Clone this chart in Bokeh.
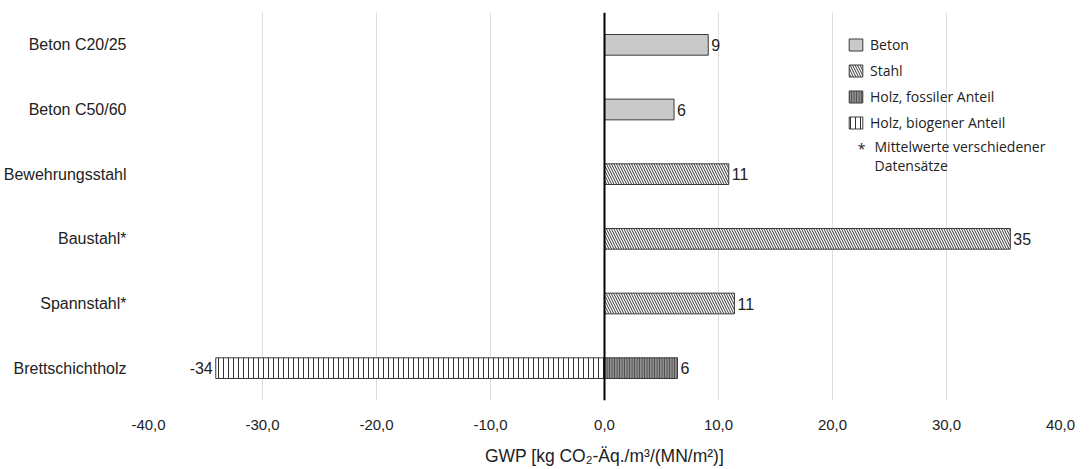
from bokeh.plotting import figure
from bokeh.models import (FactorRange, Range1d, FixedTicker, Span, Legend, LegendItem,
                          ColumnDataSource, Label)
from bokeh.core.properties import value
from bokeh.embed import file_html
from bokeh.resources import INLINE

categories = ["Beton C20/25", "Beton C50/60", "Bewehrungsstahl", "Baustahl*", "Spannstahl*", "Brettschichtholz"]

beton_cats = ["Beton C20/25", "Beton C50/60"]
beton_vals = [9.1, 6.1]
beton_labels = ["9", "6"]

stahl_cats = ["Bewehrungsstahl", "Baustahl*", "Spannstahl*"]
stahl_vals = [10.9, 35.6, 11.4]
stahl_labels = ["11", "35", "11"]

holz_cats = ["Brettschichtholz"]
holz_fossil = [6.4]
holz_fossil_labels = ["6"]
holz_biogen = [-34.1]
holz_biogen_labels = ["-34"]

x_ticks = [-40, -30, -20, -10, 0, 10, 20, 30, 40]
x_tick_labels = ["-40,0", "-30,0", "-20,0", "-10,0", "0,0", "10,0", "20,0", "30,0", "40,0"]

FONT = "Liberation Sans"
LFONT = "Open Sans"
BAR_H = 0.32

p = figure(width=1075, height=468, output_backend="svg", toolbar_location=None,
           y_range=FactorRange(factors=categories[::-1], range_padding=0),
           x_range=Range1d(-40, 40),
           min_border_left=144, min_border_right=15, min_border_top=12, min_border_bottom=63)
p.outline_line_color = None
p.background_fill_color = "white"

# axes
p.xaxis.ticker = FixedTicker(ticks=x_ticks)
p.xaxis.major_label_overrides = {t: l for t, l in zip(x_ticks, x_tick_labels)}
p.xaxis.axis_line_color = None
p.xaxis.major_tick_line_color = None
p.xaxis.minor_tick_line_color = None
p.xaxis.major_label_text_font = FONT
p.xaxis.major_label_text_font_size = "15px"
p.xaxis.major_label_text_color = "#222222"
p.xaxis.major_label_standoff = 13
p.xaxis.axis_label = "GWP [kg CO₂-Äq./m³/(MN/m²)]"
p.xaxis.axis_label_text_font = FONT
p.xaxis.axis_label_text_font_size = "17.5px"
p.xaxis.axis_label_text_font_style = "normal"
p.xaxis.axis_label_text_color = "#222222"
p.xaxis.axis_label_standoff = 13

p.yaxis.axis_line_color = None
p.yaxis.major_tick_line_color = None
p.yaxis.minor_tick_line_color = None
p.yaxis.major_label_text_font = FONT
p.yaxis.major_label_text_font_size = "16px"
p.yaxis.major_label_text_color = "#222222"
p.yaxis.major_label_standoff = 16

p.ygrid.grid_line_color = None
p.xgrid.grid_line_color = "#dedede"
p.xgrid.grid_line_width = 1

# bars
beton_src = ColumnDataSource(dict(y=beton_cats, x=beton_vals, lab=beton_labels))
stahl_src = ColumnDataSource(dict(y=stahl_cats, x=stahl_vals, lab=stahl_labels))
fos_src = ColumnDataSource(dict(y=holz_cats, x=holz_fossil, lab=holz_fossil_labels))
bio_src = ColumnDataSource(dict(y=holz_cats, x=holz_biogen, lab=holz_biogen_labels))

r_beton = p.hbar(y="y", left=0, right="x", height=BAR_H, source=beton_src,
                 fill_color="#c9c9c9", line_color="#3a3a3a", line_width=1)
r_stahl = p.hbar(y="y", left=0, right="x", height=BAR_H, source=stahl_src,
                 fill_color="white", line_color="#3a3a3a", line_width=1,
                 hatch_pattern="\\", hatch_scale=5, hatch_weight=1, hatch_color="#333333")
r_fos = p.hbar(y="y", left=0, right="x", height=BAR_H, source=fos_src,
               fill_color="#8f8f8f", line_color="#3a3a3a", line_width=1,
               hatch_pattern="|", hatch_scale=2.5, hatch_weight=1, hatch_color="#444444")
r_bio = p.hbar(y="y", left="x", right=0, height=BAR_H, source=bio_src,
               fill_color="white", line_color="#3a3a3a", line_width=1,
               hatch_pattern="|", hatch_scale=5, hatch_weight=1, hatch_color="#333333")

# value labels
for src in (beton_src, stahl_src, fos_src):
    p.text(x="x", y="y", text="lab", source=src, x_offset=3, text_baseline="middle",
           text_align="left", text_font=value(FONT), text_font_size="16px", text_color="#222222")
p.text(x="x", y="y", text="lab", source=bio_src, x_offset=-3, text_baseline="middle",
       text_align="right", text_font=value(FONT), text_font_size="16px", text_color="#222222")

# zero line
p.add_layout(Span(location=0, dimension="height", line_color="black", line_width=2))

# legend
legend = Legend(items=[
    LegendItem(label="Beton", renderers=[r_beton]),
    LegendItem(label="Stahl", renderers=[r_stahl]),
    LegendItem(label="Holz, fossiler Anteil", renderers=[r_fos]),
    LegendItem(label="Holz, biogener Anteil", renderers=[r_bio]),
], location=(699, 268))
legend.label_text_font = LFONT
legend.label_text_font_size = "14px"
legend.label_text_color = "#222222"
legend.glyph_width = 17
legend.glyph_height = 15
legend.label_standoff = 6
legend.spacing = 7
legend.label_height = 16
legend.padding = 4
legend.margin = 0
legend.border_line_color = None
legend.background_fill_alpha = 0
p.add_layout(legend, "center")

p.add_layout(Label(x=713, y=252, x_units="screen", y_units="screen", text="*",
                   text_font=LFONT, text_font_size="14px", text_color="#222222",
                   text_baseline="middle", text_align="center"))
p.add_layout(Label(x=726, y=254, x_units="screen", y_units="screen",
                   text="Mittelwerte verschiedener",
                   text_font=LFONT, text_font_size="14px", text_color="#222222",
                   text_baseline="middle"))
p.add_layout(Label(x=726, y=235, x_units="screen", y_units="screen",
                   text="Datensätze",
                   text_font=LFONT, text_font_size="14px", text_color="#222222",
                   text_baseline="middle"))

open("out.html", "w").write(file_html(p, INLINE))
